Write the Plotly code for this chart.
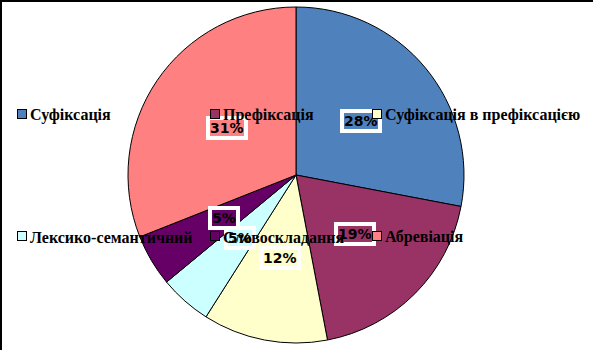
import math
import plotly.graph_objects as go

labels = ["Суфіксація", "Префіксація", "Суфіксація в префіксацією",
          "Лексико-семантичний", "Словоскладання", "Абревіація"]
values = [28, 19, 12, 5, 5, 31]
colors = ["#4F81BD", "#993366", "#FFFFCC", "#CCFFFF", "#660066", "#FF8080"]

W, H = 593, 350
cx, cy, r = 296, 175, 168

fig = go.Figure(go.Pie(
    labels=labels, values=values, sort=False, direction="clockwise",
    rotation=0, marker=dict(colors=colors, line=dict(color="black", width=1)),
    textinfo="none", hoverinfo="label+percent", showlegend=False,
    domain=dict(x=[(cx - r) / W, (cx + r) / W], y=[(H - cy - r) / H, (H - cy + r) / H]),
))

annotations = []
shapes = []
total = sum(values)
cum = 0
for v, c in zip(values, colors):
    mid = (cum + v / 2) / total * 2 * math.pi
    cum += v
    px = cx + 0.5 * r * math.sin(mid)
    py = cy - 0.5 * r * math.cos(mid)
    annotations.append(dict(
        x=px / W, y=1 - py / H, xref="paper", yref="paper",
        text="<b>%d%%</b>" % round(v / total * 100), showarrow=False,
        font=dict(family="DejaVu Sans", size=14, color="black"),
        bgcolor=c, bordercolor="white", borderwidth=4, borderpad=0,
        xanchor="center", yanchor="middle"))

col_x = [17, 210, 372]
row_y = [114, 236]
for i, (t, c) in enumerate(zip(labels, colors)):
    mx = col_x[i % 3]
    my = row_y[i // 3]
    annotations.append(dict(
        x=mx / W, y=1 - my / H, xref="paper", yref="paper",
        text=" ", showarrow=False, width=8, height=8,
        font=dict(size=1), bgcolor=c, bordercolor="black", borderwidth=1, borderpad=0,
        xanchor="left", yanchor="middle"))
    annotations.append(dict(
        x=(mx + 11) / W, y=1 - (my + 1) / H, xref="paper", yref="paper",
        text="<b>%s</b>" % t, showarrow=False,
        font=dict(family="Liberation Serif", size=16, color="black"),
        xanchor="left", yanchor="middle"))

shapes.append(dict(type="line", xref="paper", yref="paper", x0=0, x1=1, y0=1 - 1 / H, y1=1 - 1 / H,
                   line=dict(color="black", width=2)))
shapes.append(dict(type="line", xref="paper", yref="paper", x0=1 / W, x1=1 / W, y0=0, y1=1,
                   line=dict(color="black", width=2)))

fig.update_layout(width=W, height=H, margin=dict(l=0, r=0, t=0, b=0),
                  paper_bgcolor="white", plot_bgcolor="white",
                  annotations=annotations, shapes=shapes)
fig.write_html("out.html")
